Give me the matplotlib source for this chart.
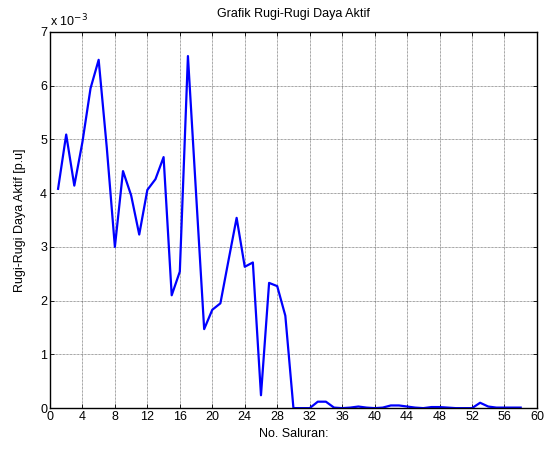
import matplotlib
matplotlib.use("Agg")
import matplotlib.pyplot as plt
import numpy as np

# data (rugi-rugi daya aktif per saluran, dalam satuan 1e-3 p.u)
saluran = np.arange(1, 59)
rugi = [4.08, 5.09, 4.14, 4.95, 5.95, 6.48, 4.85, 3.00, 4.41, 3.96,
        3.23, 4.06, 4.26, 4.67, 2.10, 2.54, 6.55, 4.00, 1.47, 1.83,
        1.95, 2.75, 3.54, 2.63, 2.71, 0.24, 2.33, 2.27, 1.72, 0.00,
        0.00, 0.00, 0.12, 0.12, 0.01, 0.00, 0.01, 0.03, 0.01, 0.00,
        0.01, 0.05, 0.05, 0.03, 0.01, 0.00, 0.02, 0.02, 0.01, 0.00,
        0.00, 0.00, 0.10, 0.03, 0.01, 0.01, 0.01, 0.01]
xticks = np.arange(0, 61, 4)
yticks = np.arange(0, 8, 1)

plt.rcParams['font.family'] = ['Liberation Sans', 'DejaVu Sans']
plt.rcParams['font.size'] = 9

fig = plt.figure(figsize=(5.49, 4.49), dpi=100)
ax = fig.add_axes([0.091, 0.091, 0.887, 0.838])

ax.plot(saluran, rugi, color='#0000ff', linewidth=1.6)

ax.set_xlim(0, 60)
ax.set_ylim(0, 7)
ax.set_xticks(xticks)
ax.set_yticks(yticks)
ax.tick_params(direction='in', top=True, right=True, length=3, width=0.6, labelsize=9, pad=2)
ax.grid(True, linestyle=(0, (1, 1)), color='black', linewidth=0.5, alpha=0.7)
for s in ax.spines.values():
    s.set_linewidth(1.0)

ax.set_title('Grafik Rugi-Rugi Daya Aktif', fontsize=9, pad=11)
ax.set_xlabel('No. Saluran:', fontsize=9, labelpad=4)
ax.set_ylabel('Rugi-Rugi Daya Aktif [p.u]', fontsize=9, labelpad=10)
ax.text(0.0, 1.008, 'x 10$^{-3}$', transform=ax.transAxes, fontsize=9, ha='left', va='bottom')

fig.savefig('out.png', dpi=100)
